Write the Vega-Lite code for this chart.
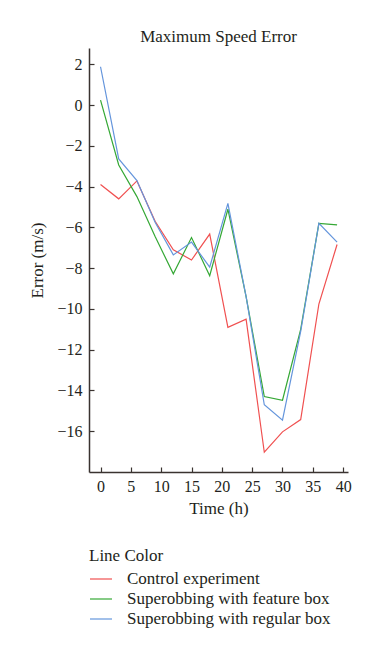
{
  "$schema": "https://vega.github.io/schema/vega-lite/v6.json",
  "width": 259,
  "height": 424,
  "autosize": {"type": "none"},
  "padding": {"left": 89, "top": 48, "right": 34, "bottom": 188},
  "background": "white",
  "title": {"text": "Maximum Speed Error", "font": "Liberation Serif", "fontSize": 17, "fontWeight": "normal", "color": "#231f20", "anchor": "middle", "offset": 2},
  "data": {"values": [
    {"t": 0, "s": "Control experiment", "v": -3.9},
    {"t": 3, "s": "Control experiment", "v": -4.6},
    {"t": 6, "s": "Control experiment", "v": -3.72},
    {"t": 9, "s": "Control experiment", "v": -5.7},
    {"t": 12, "s": "Control experiment", "v": -7.1},
    {"t": 15, "s": "Control experiment", "v": -7.6},
    {"t": 18, "s": "Control experiment", "v": -6.33},
    {"t": 21, "s": "Control experiment", "v": -10.9},
    {"t": 24, "s": "Control experiment", "v": -10.5},
    {"t": 27, "s": "Control experiment", "v": -17.03},
    {"t": 30, "s": "Control experiment", "v": -16.03},
    {"t": 33, "s": "Control experiment", "v": -15.43},
    {"t": 36, "s": "Control experiment", "v": -9.76},
    {"t": 39, "s": "Control experiment", "v": -6.84},
    {"t": 0, "s": "Superobbing with feature box", "v": 0.24},
    {"t": 3, "s": "Superobbing with feature box", "v": -2.94},
    {"t": 6, "s": "Superobbing with feature box", "v": -4.49},
    {"t": 9, "s": "Superobbing with feature box", "v": -6.45},
    {"t": 12, "s": "Superobbing with feature box", "v": -8.28},
    {"t": 15, "s": "Superobbing with feature box", "v": -6.5},
    {"t": 18, "s": "Superobbing with feature box", "v": -8.37},
    {"t": 21, "s": "Superobbing with feature box", "v": -5.11},
    {"t": 24, "s": "Superobbing with feature box", "v": -9.4},
    {"t": 27, "s": "Superobbing with feature box", "v": -14.3},
    {"t": 30, "s": "Superobbing with feature box", "v": -14.48},
    {"t": 33, "s": "Superobbing with feature box", "v": -11.0},
    {"t": 36, "s": "Superobbing with feature box", "v": -5.8},
    {"t": 39, "s": "Superobbing with feature box", "v": -5.88},
    {"t": 0, "s": "Superobbing with regular box", "v": 1.88},
    {"t": 3, "s": "Superobbing with regular box", "v": -2.64},
    {"t": 6, "s": "Superobbing with regular box", "v": -3.7},
    {"t": 9, "s": "Superobbing with regular box", "v": -5.75},
    {"t": 12, "s": "Superobbing with regular box", "v": -7.35},
    {"t": 15, "s": "Superobbing with regular box", "v": -6.72},
    {"t": 18, "s": "Superobbing with regular box", "v": -7.95},
    {"t": 21, "s": "Superobbing with regular box", "v": -4.82},
    {"t": 24, "s": "Superobbing with regular box", "v": -9.4},
    {"t": 27, "s": "Superobbing with regular box", "v": -14.7},
    {"t": 30, "s": "Superobbing with regular box", "v": -15.46},
    {"t": 33, "s": "Superobbing with regular box", "v": -11.1},
    {"t": 36, "s": "Superobbing with regular box", "v": -5.8},
    {"t": 39, "s": "Superobbing with regular box", "v": -6.72}
  ]},
  "mark": {"type": "line", "strokeWidth": 1.2},
  "encoding": {
    "x": {"field": "t", "type": "quantitative", "title": "Time (h)",
      "scale": {"domain": [-1.9, 40.8], "nice": false, "zero": false},
      "axis": {"values": [0, 5, 10, 15, 20, 25, 30, 35, 40], "grid": false, "tickSize": -5, "labelPadding": 11, "titlePadding": 6}},
    "y": {"field": "v", "type": "quantitative", "title": "Error (m/s)",
      "scale": {"domain": [-18, 2.8], "nice": false, "zero": false},
      "axis": {"values": [-16, -14, -12, -10, -8, -6, -4, -2, 0, 2], "grid": false, "tickSize": -5, "labelPadding": 12, "titlePadding": 10}},
    "color": {"field": "s", "type": "nominal", "title": "Line Color",
      "scale": {"domain": ["Control experiment", "Superobbing with feature box", "Superobbing with regular box"], "range": ["#f05050", "#35a835", "#6495dc"]},
      "legend": {"orient": "none", "legendX": 0, "legendY": 500, "symbolType": "stroke", "symbolSize": 484, "symbolStrokeWidth": 1.2, "labelOffset": 14, "rowPadding": 0, "titlePadding": 2}}
  },
  "config": {
    "view": {"stroke": null},
    "font": "Liberation Serif",
    "axis": {"labelFont": "Liberation Serif", "titleFont": "Liberation Serif", "labelFontSize": 16, "titleFontSize": 17, "titleFontWeight": "normal", "labelColor": "#231f20", "titleColor": "#231f20", "domainColor": "#3a3330", "tickColor": "#3a3330", "domainWidth": 1.5, "tickWidth": 1.2},
    "legend": {"labelFont": "Liberation Serif", "titleFont": "Liberation Serif", "labelFontSize": 17, "titleFontSize": 17, "titleFontWeight": "normal", "labelColor": "#231f20", "titleColor": "#231f20", "labelLimit": 300}
  }
}
